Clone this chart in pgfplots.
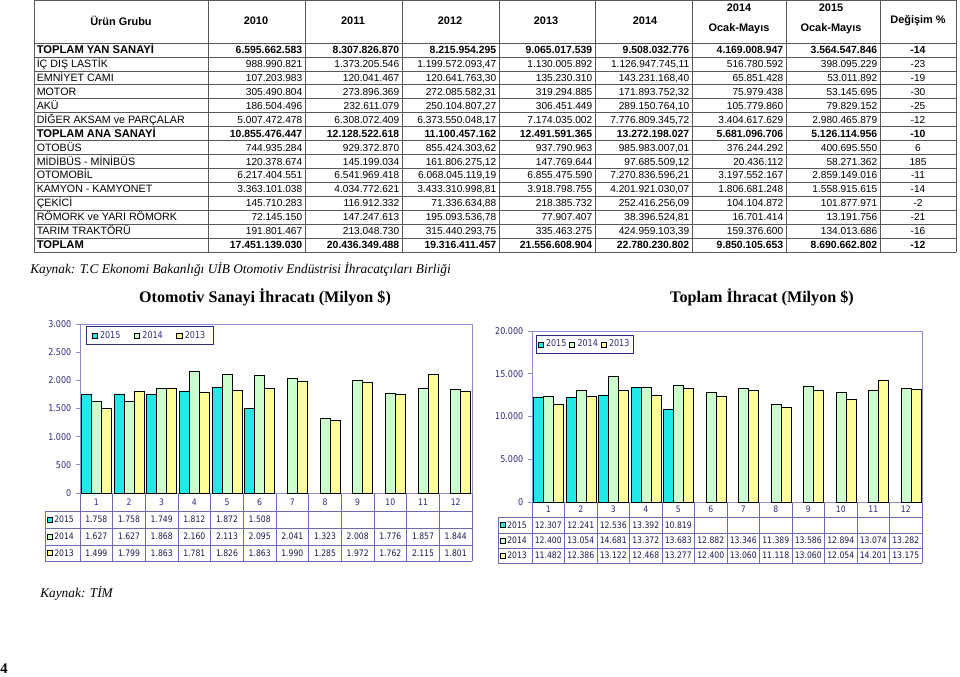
\documentclass[border=0pt]{standalone}
\usepackage{pgfplots}
\pgfplotsset{compat=1.18}
\usepackage{fontspec}
\setmainfont{Liberation Sans}
\newfontfamily\serif{Liberation Serif}
\newfontfamily\cf{DejaVu Sans}[FakeStretch=0.86]
\definecolor{cyanb}{HTML}{22E8E8}
\definecolor{greenb}{HTML}{CCFFCC}
\definecolor{yellowb}{HTML}{FFFF99}
\definecolor{lav}{HTML}{8C8CD0}
\definecolor{navy}{HTML}{2B2B80}
\definecolor{gridc}{HTML}{6A6AB8}
\definecolor{txt}{HTML}{1A1A50}
\newcommand\cfs{\cf\fontsize{6.7}{8}\selectfont}
\newcommand\hf{\fontsize{8.2}{9}\selectfont\bfseries}
\newcommand\rf{}
\def\nsz{7.6}
\def\msz{8.0}
\newcommand\mfont{\fontsize{\msz}{10}\selectfont\rf}
\newcommand\numf{\fontsize{\nsz}{10}\selectfont\rf}
\newcommand\row[9]{%
 \pgfmathsetmacro\yy{43+13.93*(#1-0.5)+3.6}%
 \node[anchor=base west,font=\mfont,inner sep=0] at (36.5,\yy) {#2};
 \node[anchor=base east,font=\numf,inner sep=0] at (302.5,\yy) {#3};
 \node[anchor=base east,font=\numf,inner sep=0] at (399.5,\yy) {#4};
 \node[anchor=base east,font=\numf,inner sep=0] at (496.5,\yy) {#5};
 \node[anchor=base east,font=\numf,inner sep=0] at (592.5,\yy) {#6};
 \node[anchor=base east,font=\numf,inner sep=0] at (689.5,\yy) {#7};
 \node[anchor=base east,font=\numf,inner sep=0] at (783.5,\yy) {#8};
 \node[anchor=base east,font=\numf,inner sep=0] at (877.5,\yy) {#9};
 \rowlast}
\newcommand\rowlast[1]{\node[anchor=base,font=\numf,inner sep=0] at (918,\yy) {#1};}
\newcommand\boldrows{\renewcommand\rf{\bfseries}\def\nsz{7.8}\def\msz{8.4}}
\newcommand\normrows{\renewcommand\rf{}\def\nsz{7.6}\def\msz{8.0}}
\pgfplotsset{
 mybars/.style={
  scale only axis, xmin=0.5, xmax=12.5, ymin=0,
  ybar=0pt, bar width=7.5pt, xtick=\empty,
  axis line style={draw=lav, line width=0.6pt},
  ytick pos=left, tick align=outside, major tick length=3pt,
  tick style={draw=lav, line width=0.6pt},
  scaled y ticks=false,
  yticklabel style={font=\cf\fontsize{7}{8}\selectfont, text=navy,
    /pgf/number format/1000 sep={.}, /pgf/number format/assume math mode=true},
  legend cell align=left,
  legend image code/.code={\draw[##1,draw=black,line width=0.3pt] (0pt,-2pt) rectangle (4pt,2pt);},
  legend style={draw=navy, line width=0.6pt, font=\cf\fontsize{7}{8}\selectfont, text=navy,
    legend columns=3, inner ysep=1.5pt},
 },
 b15/.style={fill=cyanb, draw=black, line width=0.3pt},
 b14/.style={fill=greenb, draw=black, line width=0.3pt},
 b13/.style={fill=yellowb, draw=black, line width=0.3pt},
}
\begin{document}
\begin{tikzpicture}
\begin{scope}[x=0.75pt,y=-0.75pt]
\useasboundingbox (0,0) rectangle (960,676);
% ---------- main table ----------
\begin{scope}[draw=black!65, line width=0.5pt]
\draw (34,0) -- (956,0);
\draw (34,43) -- (956,43);
\foreach \k in {1,...,15} \draw (34,{43+13.93*\k}) -- (956,{43+13.93*\k});
\foreach \xx in {34,208,305,402,499,595,692,786,880,956} \draw (\xx,0) -- (\xx,252);
\end{scope}
\node[font=\hf] at (121,21) {Ürün Grubu};
\node[font=\hf] at (256,21) {2010};
\node[font=\hf] at (353,21) {2011};
\node[font=\hf] at (450,21) {2012};
\node[font=\hf] at (546,21) {2013};
\node[font=\hf] at (645,21) {2014};
\node[font=\hf] at (739,8) {2014};
\node[font=\hf] at (739,29) {Ocak-Mayıs};
\node[font=\hf] at (831,8) {2015};
\node[font=\hf] at (831,29) {Ocak-Mayıs};
\node[font=\hf] at (918,21) {Değişim \%};
\boldrows
\row{1}{TOPLAM YAN SANAYİ}{6.595.662.583}{8.307.826.870}{8.215.954.295}{9.065.017.539}{9.508.032.776}{4.169.008.947}{3.564.547.846}{-14}
\normrows
\row{2}{İÇ DIŞ LASTİK}{988.990.821}{1.373.205.546}{1.199.572.093,47}{1.130.005.892}{1.126.947.745,11}{516.780.592}{398.095.229}{-23}
\row{3}{EMNİYET CAMI}{107.203.983}{120.041.467}{120.641.763,30}{135.230.310}{143.231.168,40}{65.851.428}{53.011.892}{-19}
\row{4}{MOTOR}{305.490.804}{273.896.369}{272.085.582,31}{319.294.885}{171.893.752,32}{75.979.438}{53.145.695}{-30}
\row{5}{AKÜ}{186.504.496}{232.611.079}{250.104.807,27}{306.451.449}{289.150.764,10}{105.779.860}{79.829.152}{-25}
\row{6}{DİĞER AKSAM ve PARÇALAR}{5.007.472.478}{6.308.072.409}{6.373.550.048,17}{7.174.035.002}{7.776.809.345,72}{3.404.617.629}{2.980.465.879}{-12}
\boldrows
\row{7}{TOPLAM ANA SANAYİ}{10.855.476.447}{12.128.522.618}{11.100.457.162}{12.491.591.365}{13.272.198.027}{5.681.096.706}{5.126.114.956}{-10}
\normrows
\row{8}{OTOBÜS}{744.935.284}{929.372.870}{855.424.303,62}{937.790.963}{985.983.007,01}{376.244.292}{400.695.550}{6}
\row{9}{MİDİBÜS - MİNİBÜS}{120.378.674}{145.199.034}{161.806.275,12}{147.769.644}{97.685.509,12}{20.436.112}{58.271.362}{185}
\row{10}{OTOMOBİL}{6.217.404.551}{6.541.969.418}{6.068.045.119,19}{6.855.475.590}{7.270.836.596,21}{3.197.552.167}{2.859.149.016}{-11}
\row{11}{KAMYON - KAMYONET}{3.363.101.038}{4.034.772.621}{3.433.310.998,81}{3.918.798.755}{4.201.921.030,07}{1.806.681.248}{1.558.915.615}{-14}
\row{12}{ÇEKİCİ}{145.710.283}{116.912.332}{71.336.634,88}{218.385.732}{252.416.256,09}{104.104.872}{101.877.971}{-2}
\row{13}{RÖMORK ve YARI RÖMORK}{72.145.150}{147.247.613}{195.093.536,78}{77.907.407}{38.396.524,81}{16.701.414}{13.191.756}{-21}
\row{14}{TARIM TRAKTÖRÜ}{191.801.467}{213.048.730}{315.440.293,75}{335.463.275}{424.959.103,39}{159.376.600}{134.013.686}{-16}
\boldrows
\row{15}{TOPLAM}{17.451.139.030}{20.436.349.488}{19.316.411.457}{21.556.608.904}{22.780.230.802}{9.850.105.653}{8.690.662.802}{-12}
\normrows
% ---------- texts ----------
\node[anchor=base west,font=\serif\itshape\fontsize{10}{12}\selectfont,inner sep=0] at (30,273) {Kaynak: T.C Ekonomi Bakanlığı UİB Otomotiv Endüstrisi İhracatçıları Birliği};
\node[font=\serif\bfseries\fontsize{12.1}{14}\selectfont] at (265,297) {Otomotiv Sanayi İhracatı (Milyon \$)};
\node[font=\serif\bfseries\fontsize{12.1}{14}\selectfont] at (762,297) {Toplam İhracat (Milyon \$)};
\node[anchor=base west,font=\serif\itshape\fontsize{10}{12}\selectfont,inner sep=0] at (40,597) {Kaynak: TİM};
\node[anchor=base west,font=\serif\bfseries\fontsize{11}{13}\selectfont,inner sep=0] at (0,673) {4};
% ---------- left data table ----------
\begin{scope}[draw=gridc, line width=0.5pt]
\foreach \k in {0,...,12} \draw ({80+32.667*\k},493) -- ({80+32.667*\k},561);
\foreach \yy in {511,528,545,561} \draw (45,\yy) -- (472,\yy);
\draw (45,511) -- (45,561);
\end{scope}
\foreach \k in {1,...,12} \node[font=\cfs,text=navy] at ({80+32.667*(\k-0.5)},502) {\k};
\foreach \v [count=\k] in {1.758,1.758,1.749,1.812,1.872,1.508}
  \node[font=\cfs,text=txt] at ({80+32.667*(\k-0.5)},519.5) {\v};
\foreach \v [count=\k] in {1.627,1.627,1.868,2.160,2.113,2.095,2.041,1.323,2.008,1.776,1.857,1.844}
  \node[font=\cfs,text=txt] at ({80+32.667*(\k-0.5)},536.5) {\v};
\foreach \v [count=\k] in {1.499,1.799,1.863,1.781,1.826,1.863,1.990,1.285,1.972,1.762,2.115,1.801}
  \node[font=\cfs,text=txt] at ({80+32.667*(\k-0.5)},553) {\v};
\foreach \c/\yy/\lab in {cyanb/519.5/2015, greenb/536.5/2014, yellowb/553/2013}{
  \draw[fill=\c,draw=black,line width=0.3pt] (47.5,\yy-2.5) rectangle (52.5,\yy+2.5);
  \node[anchor=west,font=\cfs,text=txt,inner sep=0] at (54,\yy) {\lab};
}
% ---------- right data table ----------
\begin{scope}[draw=gridc, line width=0.5pt]
\foreach \k in {0,...,12} \draw ({532+32.5*\k},502) -- ({532+32.5*\k},563);
\foreach \yy in {517,533,548,563} \draw (498,\yy) -- (922,\yy);
\draw (498,517) -- (498,563);
\end{scope}
\foreach \k in {1,...,12} \node[font=\cfs,text=navy] at ({532+32.5*(\k-0.5)},509.5) {\k};
\foreach \v [count=\k] in {12.307,12.241,12.536,13.392,10.819}
  \node[font=\cfs,text=txt] at ({532+32.5*(\k-0.5)},525) {\v};
\foreach \v [count=\k] in {12.400,13.054,14.681,13.372,13.683,12.882,13.346,11.389,13.586,12.894,13.074,13.282}
  \node[font=\cfs,text=txt] at ({532+32.5*(\k-0.5)},540.5) {\v};
\foreach \v [count=\k] in {11.482,12.386,13.122,12.468,13.277,12.400,13.060,11.118,13.060,12.054,14.201,13.175}
  \node[font=\cfs,text=txt] at ({532+32.5*(\k-0.5)},555.5) {\v};
\foreach \c/\yy/\lab in {cyanb/525/2015, greenb/540.5/2014, yellowb/555.5/2013}{
  \draw[fill=\c,draw=black,line width=0.3pt] (500.5,\yy-2.5) rectangle (505.5,\yy+2.5);
  \node[anchor=west,font=\cfs,text=txt,inner sep=0] at (507,\yy) {\lab};
}
\end{scope}
% ---------- left chart ----------
\begin{axis}[mybars, at={(60pt,-369.75pt)}, anchor=south west,
  width=294pt, height=126.75pt, ymax=3000, ytick={0,500,...,3000},
  legend style={at={(0.015,0.988)}, anchor=north west, inner xsep=4pt}]
\addplot[b15] coordinates {(1,1758) (2,1758) (3,1749) (4,1812) (5,1872) (6,1508)};
\addplot[b14] coordinates {(1,1627) (2,1627) (3,1868) (4,2160) (5,2113) (6,2095) (7,2041) (8,1323) (9,2008) (10,1776) (11,1857) (12,1844)};
\addplot[b13] coordinates {(1,1499) (2,1799) (3,1863) (4,1781) (5,1826) (6,1863) (7,1990) (8,1285) (9,1972) (10,1762) (11,2115) (12,1801)};
\legend{\makebox[23.5pt][l]{2015},\makebox[23.5pt][l]{2014},2013}
\end{axis}
% ---------- right chart ----------
\begin{axis}[mybars, at={(399pt,-376.5pt)}, anchor=south west,
  width=292.5pt, height=128.25pt, ymax=20000, ytick={0,5000,...,20000},
  legend style={at={(0.01,0.977)}, anchor=north west, inner xsep=1pt}]
\addplot[b15] coordinates {(1,12307) (2,12241) (3,12536) (4,13392) (5,10819)};
\addplot[b14] coordinates {(1,12400) (2,13054) (3,14681) (4,13372) (5,13683) (6,12882) (7,13346) (8,11389) (9,13586) (10,12894) (11,13074) (12,13282)};
\addplot[b13] coordinates {(1,11482) (2,12386) (3,13122) (4,12468) (5,13277) (6,12400) (7,13060) (8,11118) (9,13060) (10,12054) (11,14201) (12,13175)};
\legend{2015,2014,2013}
\end{axis}
\end{tikzpicture}
\end{document}
